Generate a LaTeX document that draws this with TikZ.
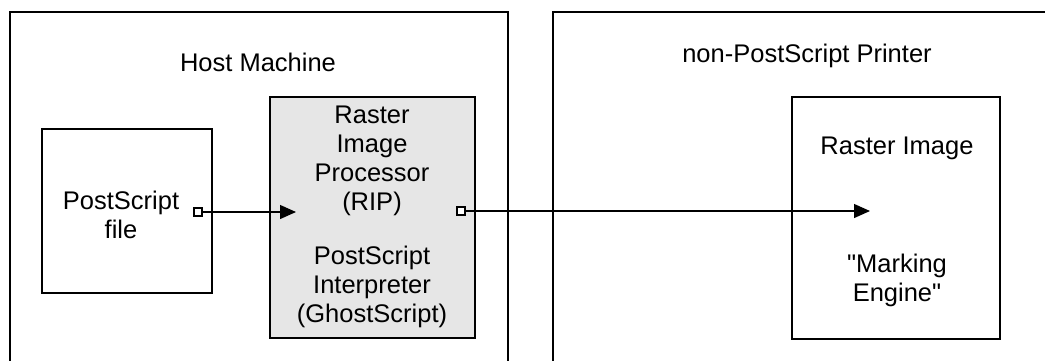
\documentclass[tikz,border=0pt]{standalone}
\usepackage{fontspec}
\setmainfont{Liberation Sans}
\usetikzlibrary{arrows.meta}
\definecolor{ripgray}{RGB}{230,230,230}
\begin{document}
\begin{tikzpicture}[x=1pt,y=-1pt,
  every node/.style={font=\fontsize{25.5}{29}\selectfont, align=center, inner sep=0pt},
  frame/.style={draw=black, line width=1.8pt},
  innerbox/.style={draw=black, line width=1.5pt, inner sep=0pt},
  port/.style={draw=black, fill=white, line width=1.3pt, minimum size=8pt, inner sep=0pt},
  flow/.style={line width=1.3pt, -{Triangle[length=16pt,width=14pt]}}
]
\useasboundingbox (0,0) rectangle (1045,360);
% outer frames (cut at the picture edges)
\draw[frame] (10,362) -- (10,12) -- (508,12) -- (508,362);
\draw[frame] (553,362) -- (553,12) -- (1047,12);
\node (hostlbl) at (258,62) {Host Machine};
\node (prnlbl) at (807,56) {non-PostScript Printer};
% inner boxes
\node[innerbox, minimum width=170pt, minimum height=164pt] (psfile) at (127,211) {};
\node[innerbox, fill=ripgray, minimum width=205pt, minimum height=241pt] (rip) at (372.5,217.5) {};
\node[innerbox, minimum width=208pt, minimum height=242pt] (raster) at (896,218) {};
% texts
\node (pstext) at (121,215) {PostScript\\file};
\node (riptext) at (372,161) {Raster\\Image\\Processor\\(RIP)};
\node (interp) at (372,287) {PostScript\\Interpreter\\(GhostScript)};
\node (rastertext) at (897,148) {Raster Image};
\node (marking) at (897,280) {\textquotedbl Marking\\Engine\textquotedbl};
% connectors
\coordinate (tip1) at (296,212);
\coordinate (tip2) at (870,211);
\node[port] (port1) at (198,212) {};
\node[port] (port2) at (461,211) {};
\draw[flow] (port1.east) -- (tip1);
\draw[flow] (port2.east) -- (tip2);
\end{tikzpicture}
\end{document}
